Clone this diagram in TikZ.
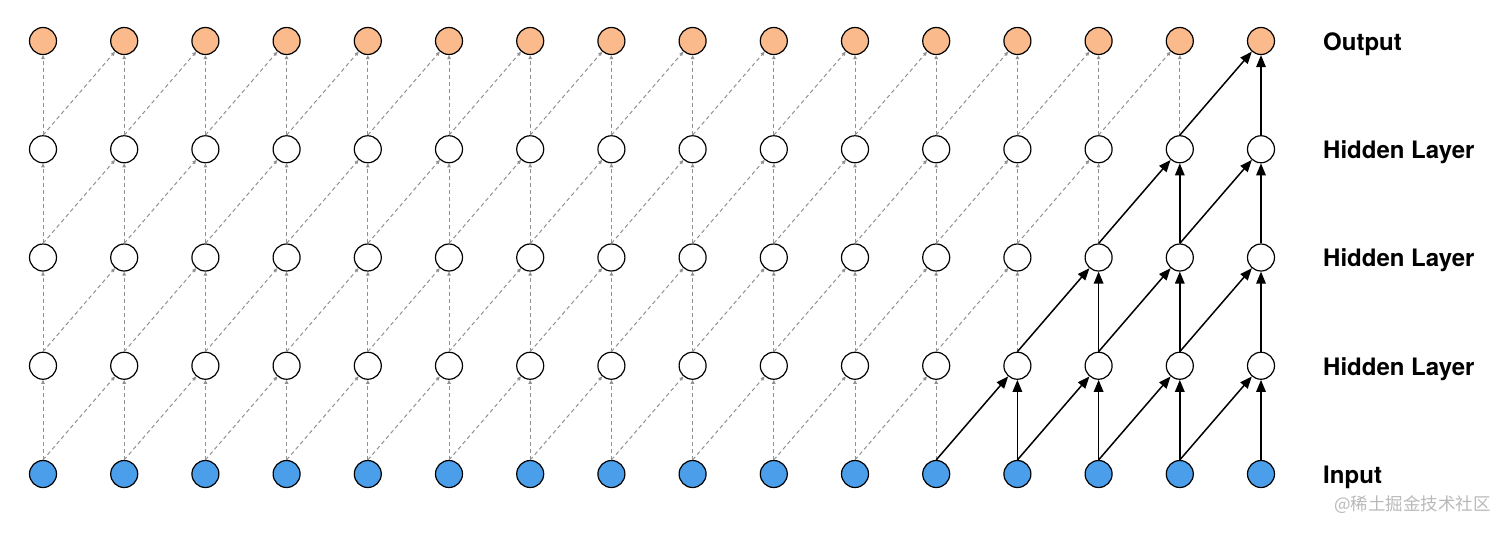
\documentclass[tikz,border=0pt]{standalone}
\usepackage{fontspec}
\setmainfont{TeX Gyre Heros}
\newfontfamily\cjkfont{Noto Sans CJK SC}
\usetikzlibrary{arrows.meta}
\definecolor{outorange}{RGB}{250,186,140}
\definecolor{inblue}{RGB}{74,158,234}
\definecolor{dashgray}{RGB}{145,145,145}
\definecolor{markgray}{RGB}{185,185,185}

\begin{document}
\begin{tikzpicture}[x=1pt, y=-1pt,
    unit/.style={circle, draw=black, line width=1.2pt, minimum size=27pt, inner sep=0pt},
    faint/.style={draw=dashgray, line width=1pt, dash pattern=on 4pt off 3pt,
        -{Triangle[length=4pt, width=3.5pt]}},
    strong/.style={draw=black, line width=1.5pt, -{Triangle[length=12pt, width=9.5pt]}},
    lbl/.style={anchor=base west, inner sep=0pt, font=\fontsize{24}{28}\selectfont\bfseries}]
    \useasboundingbox (0,0) rectangle (1512,533);

    % units, row 0 = input, row 4 = output
    \foreach \r/\col in {0/inblue, 1/white, 2/white, 3/white, 4/outorange}
        \foreach \i in {0,...,15}
            \node[unit, fill=\col] (n\r-\i) at ({43+81.2*\i},{474-108.25*\r}) {};

    % connections between layers
    \foreach \r in {0,...,3} {
        \pgfmathtruncatemacro\s{\r+1}
        \pgfmathtruncatemacro\va{11+\r}
        \pgfmathtruncatemacro\vb{12+\r}
        \pgfmathtruncatemacro\da{10+\r}
        \pgfmathtruncatemacro\db{11+\r}
        \foreach \i in {0,...,\va}
            \draw[faint] (n\r-\i.north) -- (n\s-\i.south);
        \foreach \i in {\vb,...,15}
            \draw[strong] (n\r-\i.north) -- (n\s-\i.south);
        \foreach \i in {0,...,\da} {
            \pgfmathtruncatemacro\j{\i+1}
            \draw[faint] (n\r-\i.north) -- (n\s-\j);
        }
        \foreach \i in {\db,...,14} {
            \pgfmathtruncatemacro\j{\i+1}
            \draw[strong] (n\r-\i.north) -- (n\s-\j);
        }
    }

    % layer names
    \node[lbl] (name-out) at (1323,50.5) {Output};
    \node[lbl] (name-h3) at (1323,158.5) {Hidden Layer};
    \node[lbl] (name-h2) at (1323,266.5) {Hidden Layer};
    \node[lbl] (name-h1) at (1323,375) {Hidden Layer};
    \node[lbl] (name-in) at (1323,483.5) {Input};

    \node[anchor=base west, inner sep=0pt, text=markgray,
        font=\cjkfont\fontsize{17.5}{20}\selectfont] (mark) at (1334,510) {@稀土掘金技术社区};
\end{tikzpicture}
\end{document}
